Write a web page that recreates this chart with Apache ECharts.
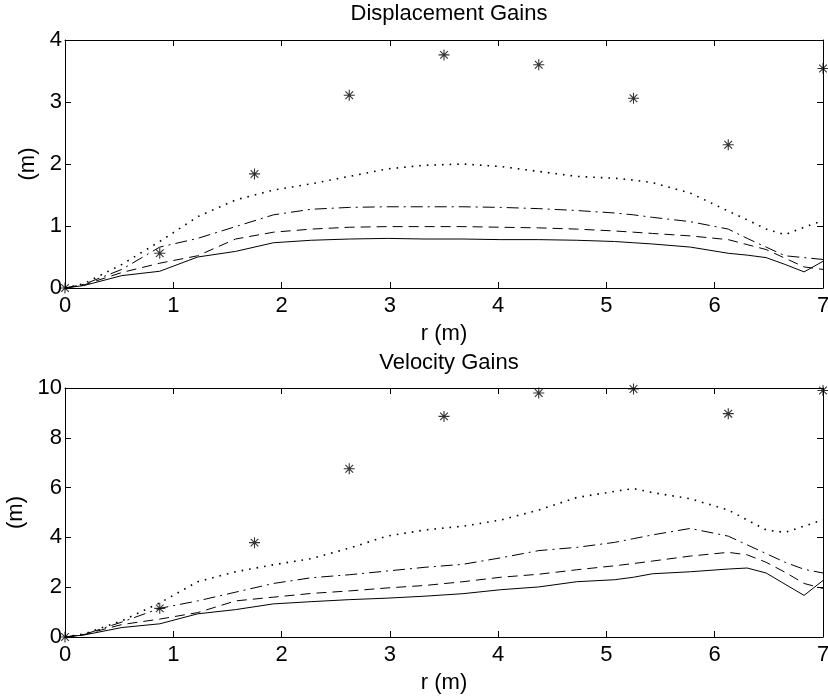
<!DOCTYPE html>
<html>
<head>
<meta charset="utf-8">
<script src="https://cdn.jsdelivr.net/npm/echarts@6/dist/echarts.min.js"></script>
<style>
  html, body { margin: 0; padding: 0; background: #fff; }
  #chart { width: 828px; height: 700px; }
</style>
</head>
<body>
<div id="chart"></div>
<script>
// r positions of the computed curves
const rLine = [0, 0.175, 0.525, 0.875, 1.225, 1.575, 1.925, 2.275, 2.625, 2.975, 3.325, 3.675,
  4.025, 4.375, 4.725, 5.075, 5.25, 5.425, 5.775, 6.125, 6.3, 6.475, 6.65, 6.825, 7]
// r positions of the star markers
const rStar = [0, 0.875, 1.75, 2.625, 3.5, 4.375, 5.25, 6.125, 7]

// displacement gains
const dispSolid = [0, 0.04, 0.20, 0.27, 0.50, 0.59, 0.73, 0.77, 0.79, 0.80, 0.79, 0.79,
  0.78, 0.78, 0.77, 0.75, 0.73, 0.71, 0.66, 0.56, 0.53, 0.49, 0.38, 0.26, 0.43]
const dispDashed = [0, 0.05, 0.25, 0.40, 0.52, 0.79, 0.90, 0.95, 0.98, 0.99, 0.99, 0.99,
  0.98, 0.97, 0.95, 0.92, 0.90, 0.88, 0.84, 0.78, 0.70, 0.62, 0.48, 0.34, 0.30]
const dispDashDot = [0, 0.06, 0.30, 0.66, 0.80, 0.99, 1.18, 1.27, 1.30, 1.31, 1.31, 1.31,
  1.30, 1.28, 1.25, 1.21, 1.18, 1.14, 1.07, 0.95, 0.80, 0.66, 0.52, 0.49, 0.46]
const dispDotted = [0, 0.07, 0.38, 0.75, 1.15, 1.42, 1.58, 1.68, 1.80, 1.92, 1.98, 2.00,
  1.96, 1.88, 1.80, 1.77, 1.74, 1.70, 1.53, 1.24, 1.10, 0.95, 0.86, 0.98, 1.09]
const dispStar = [0, 0.56, 1.84, 3.11, 3.76, 3.60, 3.06, 2.31, 3.54]

// velocity gains
const velSolid = [0, 0.08, 0.38, 0.53, 0.93, 1.10, 1.33, 1.42, 1.50, 1.56, 1.64, 1.74,
  1.90, 2.01, 2.22, 2.30, 2.40, 2.54, 2.62, 2.73, 2.77, 2.57, 2.12, 1.67, 2.27]
const velDashed = [0, 0.10, 0.50, 0.72, 0.98, 1.45, 1.60, 1.75, 1.85, 1.97, 2.07, 2.22,
  2.40, 2.52, 2.70, 2.86, 2.95, 3.05, 3.25, 3.40, 3.30, 3.00, 2.60, 2.15, 1.95]
const velDashDot = [0, 0.10, 0.60, 1.15, 1.45, 1.80, 2.15, 2.38, 2.50, 2.65, 2.80, 2.92,
  3.18, 3.47, 3.60, 3.80, 3.95, 4.10, 4.36, 4.05, 3.70, 3.35, 3.00, 2.72, 2.57]
const velDotted = [0, 0.12, 0.65, 1.37, 2.22, 2.62, 2.90, 3.15, 3.57, 4.05, 4.30, 4.45,
  4.70, 5.10, 5.60, 5.85, 5.96, 5.80, 5.55, 5.10, 4.70, 4.30, 4.20, 4.45, 4.71]
const velStar = [0, 1.15, 3.79, 6.76, 8.86, 9.80, 9.96, 8.97, 9.90]

const FONT = 'Liberation Sans'
const starPath = 'path://M0,5L10,5M5,0L5,10M1.5,1.5L8.5,8.5M8.5,1.5L1.5,8.5'

const pairs = (xs, ys) => xs.map((x, i) => [x, ys[i]])

const xAxisOf = (gridIndex, position, withLabel) => ({
  type: 'value',
  gridIndex,
  position,
  min: 0,
  max: 7,
  interval: 1,
  name: withLabel ? 'r (m)' : '',
  nameLocation: 'middle',
  nameGap: 35,
  nameTextStyle: { color: '#000', fontSize: 22, fontFamily: FONT },
  axisLine: { show: true, onZero: false, lineStyle: { color: '#000', width: 1 } },
  axisTick: { show: true, inside: true, length: 6, lineStyle: { color: '#000' } },
  axisLabel: { show: withLabel, color: '#000', fontSize: 22, fontFamily: FONT, margin: 7 },
  splitLine: { show: false }
})

const yAxisOf = (gridIndex, position, withLabel, max, interval) => ({
  type: 'value',
  gridIndex,
  position,
  min: 0,
  max,
  interval,
  name: withLabel ? '(m)' : '',
  nameLocation: 'middle',
  nameRotate: 90,
  nameGap: 22,
  nameTextStyle: { color: '#000', fontSize: 22, fontFamily: FONT },
  axisLine: { show: true, onZero: false, lineStyle: { color: '#000', width: 1 } },
  axisTick: { show: true, inside: true, length: 6, lineStyle: { color: '#000' } },
  axisLabel: { show: withLabel, color: '#000', fontSize: 22, fontFamily: FONT, margin: 3 },
  splitLine: { show: false }
})

const lineOf = (idx, ys, dash, width) => ({
  type: 'line',
  xAxisIndex: idx,
  yAxisIndex: idx,
  data: pairs(rLine, ys),
  symbol: 'none',
  silent: true,
  lineStyle: { color: '#000', width: width || 1, type: dash }
})

const starsOf = (idx, ys) => ({
  type: 'scatter',
  xAxisIndex: idx,
  yAxisIndex: idx,
  data: pairs(rStar, ys),
  symbol: starPath,
  symbolSize: 11,
  clip: false,
  silent: true,
  itemStyle: { color: 'none', borderColor: '#000', borderWidth: 1.1 }
})

const chart = echarts.init(document.getElementById('chart'), null, { renderer: 'canvas' })
chart.setOption({
  animation: false,
  backgroundColor: '#fff',
  title: [
    {
      text: 'Displacement Gains', left: 444, top: -2, textAlign: 'center',
      textStyle: { color: '#000', fontSize: 22, fontWeight: 'normal', fontFamily: FONT }
    },
    {
      text: 'Velocity Gains', left: 444, top: 347, textAlign: 'center',
      textStyle: { color: '#000', fontSize: 22, fontWeight: 'normal', fontFamily: FONT }
    }
  ],
  grid: [
    { left: 65, right: 5, top: 40, height: 248, outerBoundsMode: 'none', containLabel: false },
    { left: 65, right: 5, top: 388, height: 249, outerBoundsMode: 'none', containLabel: false }
  ],
  xAxis: [
    xAxisOf(0, 'bottom', true),
    xAxisOf(0, 'top', false),
    xAxisOf(1, 'bottom', true),
    xAxisOf(1, 'top', false)
  ],
  yAxis: [
    yAxisOf(0, 'left', true, 4, 1),
    yAxisOf(0, 'right', false, 4, 1),
    yAxisOf(1, 'left', true, 10, 2),
    yAxisOf(1, 'right', false, 10, 2)
  ],
  series: [
    lineOf(0, dispSolid, 'solid'),
    lineOf(0, dispDashed, [10, 6]),
    lineOf(0, dispDashDot, [12, 5, 2, 5]),
    lineOf(0, dispDotted, [1.6, 6], 1.6),
    starsOf(0, dispStar),
    lineOf(2, velSolid, 'solid'),
    lineOf(2, velDashed, [10, 6]),
    lineOf(2, velDashDot, [12, 5, 2, 5]),
    lineOf(2, velDotted, [1.6, 6], 1.6),
    starsOf(2, velStar)
  ]
})
</script>
</body>
</html>
